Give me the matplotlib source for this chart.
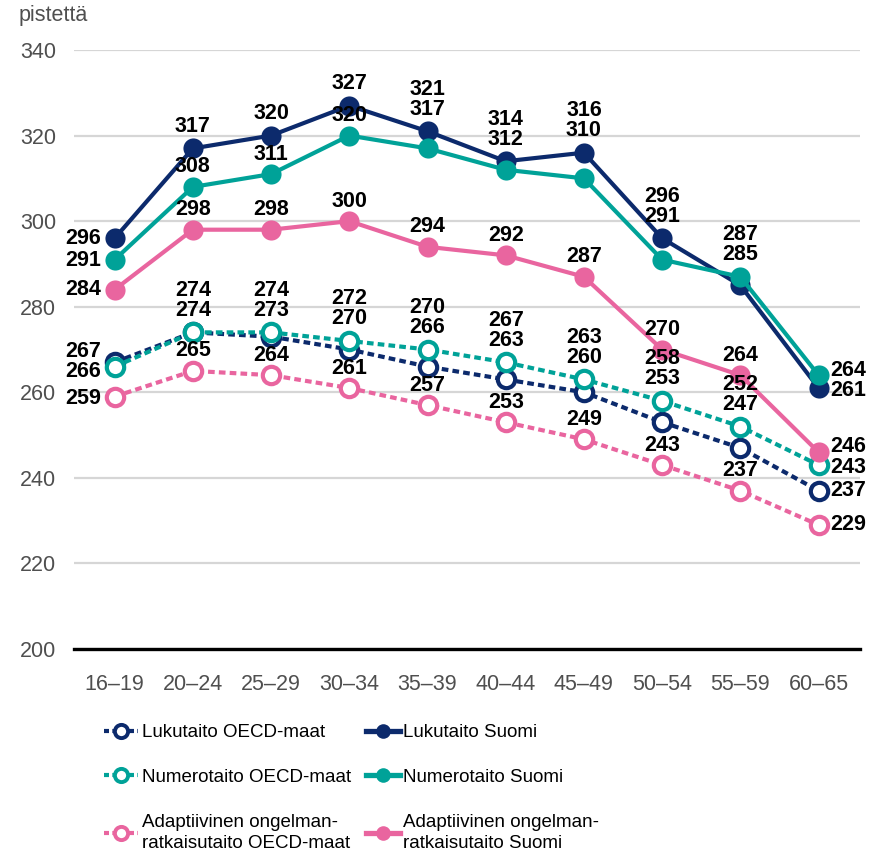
import matplotlib
matplotlib.use('Agg')
import matplotlib.pyplot as plt
from matplotlib.lines import Line2D

age_groups = ['16–19', '20–24', '25–29', '30–34', '35–39', '40–44', '45–49', '50–54', '55–59', '60–65']
luku_suomi = [296, 317, 320, 327, 321, 314, 316, 296, 285, 261]
num_suomi = [291, 308, 311, 320, 317, 312, 310, 291, 287, 264]
adapt_suomi = [284, 298, 298, 300, 294, 292, 287, 270, 264, 246]
luku_oecd = [267, 274, 273, 270, 266, 263, 260, 253, 247, 237]
num_oecd = [266, 274, 274, 272, 270, 267, 263, 258, 252, 243]
adapt_oecd = [259, 265, 264, 261, 257, 253, 249, 243, 237, 229]
y_ticks = [200, 220, 240, 260, 280, 300, 320, 340]
legend_labels_oecd = ['Lukutaito OECD-maat', 'Numerotaito OECD-maat',
                      'Adaptiivinen ongelman-\nratkaisutaito OECD-maat']
legend_labels_suomi = ['Lukutaito Suomi', 'Numerotaito Suomi',
                       'Adaptiivinen ongelman-\nratkaisutaito Suomi']
y_unit = 'pistettä'

NAVY = '#0c2a6c'
TEAL = '#00a298'
PINK = '#e9659f'
GREY = '#4f4f4f'

NUM_FONT = 'Liberation Sans'
TXT_FONT = ['Liberation Sans Narrow', 'Liberation Sans', 'DejaVu Sans']

W, H = 870, 859
fig = plt.figure(figsize=(W / 100, H / 100), dpi=100)
ax = fig.add_axes([74 / W, 1 - 649 / H, (860 - 74) / W, (649 - 50) / H])
xs = list(range(len(age_groups)))

dash = (0, (1.6, 1.0))
oecd_kw = dict(lw=3.0, ls=dash, marker='o', ms=12.5, mew=3.0, mfc='white', clip_on=False)
suomi_kw = dict(lw=3.0, ls='-', marker='o', ms=14.5, mew=0, clip_on=False)

ax.plot(xs, adapt_oecd, color=PINK, mec=PINK, zorder=3, **oecd_kw)
ax.plot(xs, luku_oecd, color=NAVY, mec=NAVY, zorder=4, **oecd_kw)
ax.plot(xs, num_oecd, color=TEAL, mec=TEAL, zorder=5, **oecd_kw)
ax.plot(xs, adapt_suomi, color=PINK, zorder=6, **suomi_kw)
ax.plot(xs, luku_suomi, color=NAVY, zorder=7, **suomi_kw)
ax.plot(xs, num_suomi, color=TEAL, zorder=8, **suomi_kw)

ax.set_xlim(-0.52, 9.53)
ax.set_ylim(200, 340)
ax.set_yticks(y_ticks)
ax.set_xticks(xs)
ax.set_xticklabels(age_groups)
ax.grid(axis='y', color='#d6d6d6', lw=1.6, zorder=0)
ax.set_axisbelow(True)
for s in ['left', 'right', 'top']:
    ax.spines[s].set_visible(False)
ax.spines['bottom'].set_color('black')
ax.spines['bottom'].set_linewidth(2.4)
ax.spines['bottom'].set_zorder(2)
ax.tick_params(axis='both', length=0, labelsize=15.5, labelcolor=GREY)
ax.tick_params(axis='y', pad=13)
ax.tick_params(axis='x', pad=18)
for lab in ax.get_xticklabels() + ax.get_yticklabels():
    lab.set_fontfamily(NUM_FONT)

fig.text(19 / W, 1 - 16 / H, y_unit, fontsize=15.5, color=GREY, family=NUM_FONT, va='center', ha='left')

lab_kw = dict(textcoords='offset pixels', fontsize=15.5, fontweight='bold', family=NUM_FONT,
              color='black', zorder=10, annotation_clip=False)


def put(i, yref, text, dx, dy, ha='center'):
    ax.annotate(text, (i, yref), xytext=(dx, dy), ha=ha, va='center', **lab_kw)


last = len(xs) - 1
# first column: labels to the left
for series, dy in [(luku_suomi, 0), (num_suomi, -1), (adapt_suomi, 0),
                   (luku_oecd, 11), (num_oecd, -5), (adapt_oecd, -2)]:
    put(0, series[0], str(series[0]), -14, dy, ha='right')
# last column: labels to the right
for series, dy in [(luku_suomi, -2), (num_suomi, 5), (adapt_suomi, 6),
                   (luku_oecd, 0), (num_oecd, -2), (adapt_oecd, 0)]:
    put(last, series[last], str(series[last]), 12, dy, ha='left')

for i in range(1, last):
    # Finland reading / numeracy
    a, b = luku_suomi[i], num_suomi[i]
    if i <= 3:
        put(i, a, str(a), 0, 22)
        put(i, b, str(b), 0, 20)
    else:
        top = max(a, b)
        hi, lo = (a, b) if a >= b else (b, a)
        put(i, top, str(hi), 0, 42)
        put(i, top, str(lo), 0, 22)
    # OECD reading / numeracy stacked
    a, b = luku_oecd[i], num_oecd[i]
    top = max(a, b)
    hi, lo = (a, b) if a >= b else (b, a)
    put(i, top, str(hi), 0, 42)
    put(i, top, str(lo), 0, 22)
    # problem solving
    put(i, adapt_suomi[i], str(adapt_suomi[i]), 0, 20)
    put(i, adapt_oecd[i], str(adapt_oecd[i]), 0, 20)

# legends
def h(color, oecd):
    if oecd:
        return Line2D([], [], color=color, lw=3.0, ls=(0, (1.2, 0.8)), marker='o', ms=9.5,
                      mew=2.8, mfc='white', mec=color)
    return Line2D([], [], color=color, lw=3.8, ls='-', marker='o', ms=10.5, mew=0)

leg_kw = dict(loc='upper left', frameon=False, borderpad=0, borderaxespad=0,
              handlelength=1.8, handletextpad=0.2, labelspacing=1.48,
              prop={'family': TXT_FONT, 'size': 13.5})
l1 = fig.legend([h(NAVY, True), h(TEAL, True), h(PINK, True)], legend_labels_oecd,
                bbox_to_anchor=(104 / W, 1 - 724 / H), **leg_kw)
l2 = fig.legend([h(NAVY, False), h(TEAL, False), h(PINK, False)], legend_labels_suomi,
                bbox_to_anchor=(366 / W, 1 - 724 / H), **leg_kw)
for lg in (l1, l2):
    for t in lg.get_texts():
        t.set_linespacing(1.35)

fig.savefig('out.png', dpi=100)
